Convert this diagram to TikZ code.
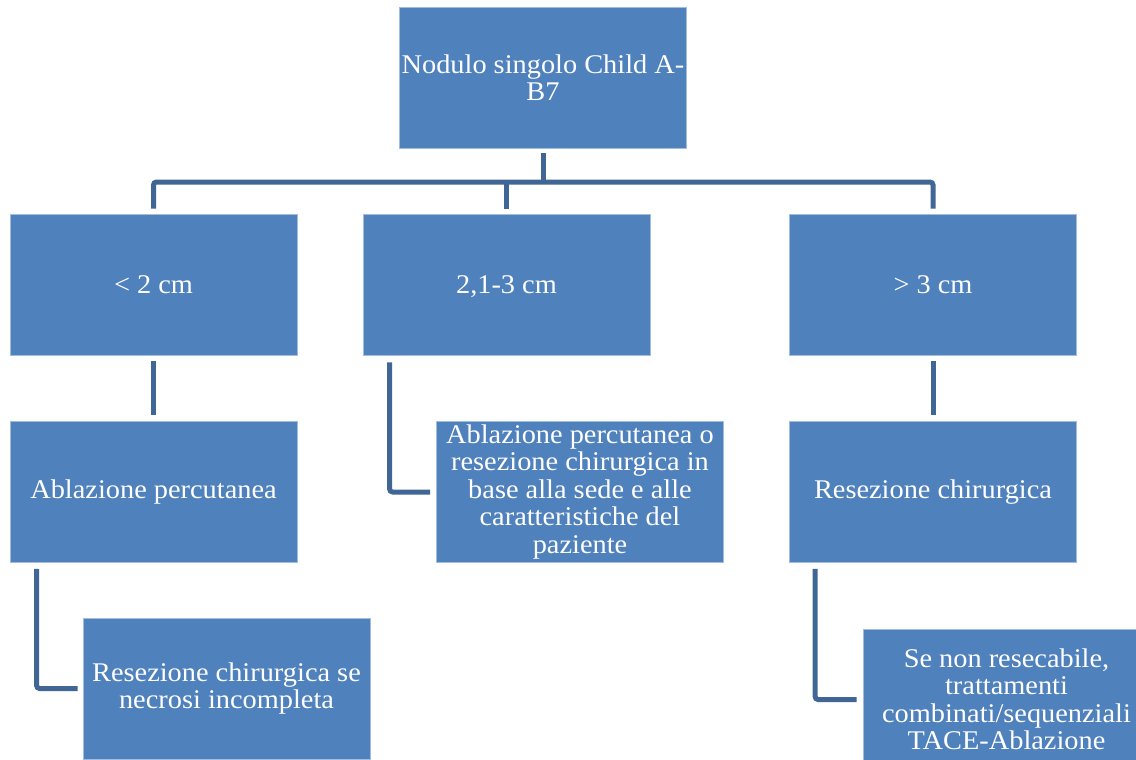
\documentclass[tikz,border=0pt]{standalone}
\usepackage{fontspec}
\setmainfont[FakeStretch=1.05]{Liberation Serif}
\usetikzlibrary{calc}
\definecolor{boxfill}{RGB}{79,129,189}
\definecolor{boxedge}{RGB}{160,188,222}
\definecolor{connc}{RGB}{64,102,150}
\tikzset{
  box/.style={rectangle, fill=boxfill, draw=boxedge, line width=0.8pt,
    minimum width=287pt, minimum height=141pt, inner sep=0pt,
    text=white, align=center, font=\fontsize{27}{27.5}\selectfont},
  conn/.style={draw=connc, line width=5pt, rounded corners=3pt}
}
\begin{document}
\begin{tikzpicture}[x=1pt, y=-1pt]
\useasboundingbox (0,0) rectangle (1136,760);
\clip (0,0) rectangle (1136,760);
\fill[white] (0,0) rectangle (1136,760);
\node[box] (top) at (543,77.5) {Nodulo singolo Child A-\\B7};
\node[box] (n1) at (153.5,284.5) {< 2 cm};
\node[box] (n2) at (506.5,284.5) {2\smash{,}1-3 cm};
\node[box] (n3) at (933,284.5) {> 3 cm};
\node[box] (a1) at (153.5,492) {Ablazione percutanea};
\node[box] (a2) at (580,492) {Ablazione percutanea o\\resezione chirurgica in\\base alla sede e alle\\caratteristiche del\\paziente};
\node[box] (a3) at (933,492) {Resezione chirurgica};
\node[box] (b1) at (226.5,688.5) {Resezione chirurgica se\\necrosi incompleta};
\node[box] (b3) at (1006.5,699.5) {Se non resecabile,\\trattamenti\\combinati/sequenziali\\TACE-Ablazione};
\coordinate (bar) at (543,182);
\draw[conn] ([yshift=5pt]n1.north) |- (bar) -| ([yshift=5pt]n3.north);
\draw[conn] ([yshift=-5pt]top.south) -- (bar);
\draw[conn] (bar -| n2.north) -- ([yshift=5pt]n2.north);
\draw[conn] ([yshift=-6pt]n1.south) -- ([yshift=6pt]a1.north);
\draw[conn] ([yshift=-6pt]n3.south) -- ([yshift=6pt]a3.north);
\draw[conn] ([xshift=27pt,yshift=-7pt]n2.south west) |- ([xshift=-6pt]a2.west);
\draw[conn] ([xshift=27pt,yshift=-6pt]a1.south west) |- ([xshift=-5pt]b1.west);
\draw[conn] ([xshift=26pt,yshift=-6pt]a3.south west) |- ([xshift=-6pt]b3.west);
\end{tikzpicture}
\end{document}
